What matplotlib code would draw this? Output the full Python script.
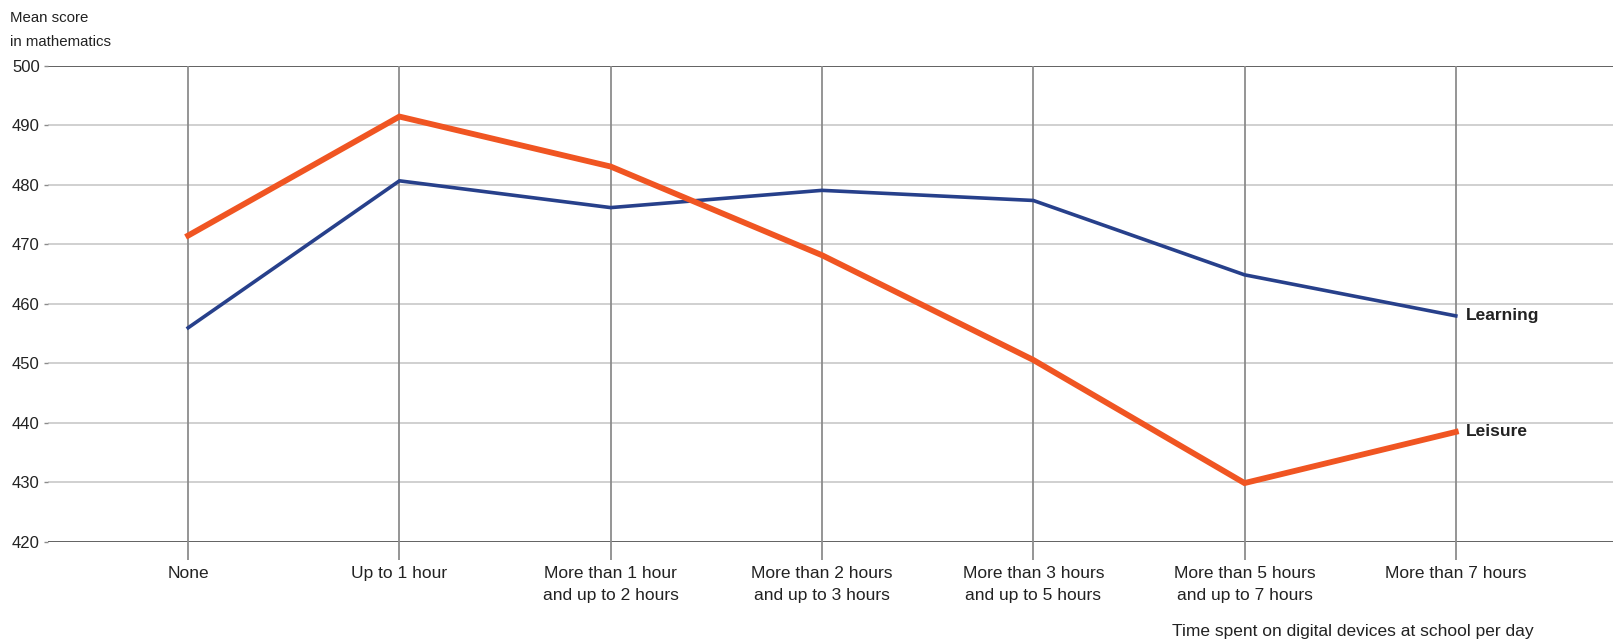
import matplotlib.pyplot as plt

plt.rcParams['font.family'] = ['Liberation Sans', 'DejaVu Sans']

categories = ["None", "Up to 1 hour", "More than 1 hour\nand up to 2 hours",
              "More than 2 hours\nand up to 3 hours", "More than 3 hours\nand up to 5 hours",
              "More than 5 hours\nand up to 7 hours", "More than 7 hours"]
learning = [456.0, 480.7, 476.2, 479.1, 477.4, 464.9, 458.0]
leisure = [471.5, 491.5, 483.1, 468.2, 450.6, 429.9, 438.5]
yticks = [420, 430, 440, 450, 460, 470, 480, 490, 500]

fig = plt.figure(figsize=(16.13, 6.42), dpi=100)
ax = fig.add_axes([0.0298, 0.1558, 0.9702, 0.7414])

x = list(range(len(categories)))

# grid
for v in yticks[1:-1]:
    ax.axhline(v, color="#c8c8c8", lw=1.2, zorder=1)
ax.axhline(500, color="#555555", lw=1.3, zorder=1)
ax.axhline(420, color="#555555", lw=1.3, zorder=1)
for xi in x:
    ax.axvline(xi, color="#8c8c8c", lw=1.3, zorder=1)

ax.plot(x, learning, color="#27408b", lw=2.6, zorder=3, solid_joinstyle="miter")
ax.plot(x, leisure, color="#f05522", lw=4.2, zorder=3, solid_joinstyle="miter")

ax.text(6.05, learning[-1], "Learning", fontsize=12.5, fontweight="bold", va="center", ha="left", color="#222222")
ax.text(6.05, leisure[-1], "Leisure", fontsize=12.5, fontweight="bold", va="center", ha="left", color="#222222")

ax.set_xlim(-0.663, 6.744)
ax.set_ylim(420, 500)
ax.set_xticks(x)
ax.set_xticklabels(categories, fontsize=12.5, color="#222222", linespacing=1.65)
ax.set_yticks(yticks)
ax.set_yticklabels([str(v) for v in yticks], fontsize=12, color="#222222")
ax.tick_params(axis="x", length=13, width=1.3, color="#8c8c8c", pad=4)
ax.tick_params(axis="y", length=3, width=1.0, color="#8c8c8c", pad=3)
for s in ax.spines.values():
    s.set_visible(False)

fig.text(0.006, 0.983, "Mean score\nin mathematics", fontsize=10.8, va="top", ha="left",
         color="#222222", linespacing=1.95)
fig.text(0.951, 0.0156, "Time spent on digital devices at school per day", fontsize=12.5,
         ha="right", va="center", color="#222222")

fig.savefig("out.png", dpi=100, facecolor="white")
